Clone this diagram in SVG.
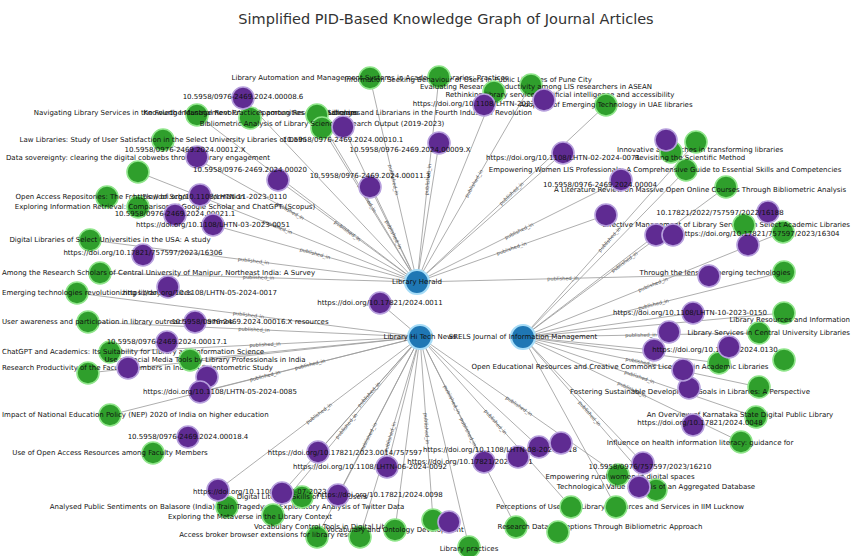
<svg xmlns="http://www.w3.org/2000/svg" width="852" height="556" viewBox="0 0 852 556">
<style>
.bg{fill:#fff}
.title{font:14.5px "DejaVu Sans",sans-serif;fill:#333;text-anchor:middle}
.e{stroke:#9a9a9a;stroke-width:1;fill:none;opacity:.8}
.el{font:5px "DejaVu Sans",sans-serif;fill:#555}
.art circle{fill:#2f9f2c;stroke:#8fe58a;stroke-width:1.6}
.pid circle{fill:#5f2b92;stroke:#b7a0dd;stroke-width:1.6}
.hub circle{fill:#1f77b4;stroke:#a6dcf7;stroke-width:2.2}
.n text{font:7px "DejaVu Sans",sans-serif;fill:#111;text-anchor:middle;dominant-baseline:central}
.n text.l{text-anchor:start}
.n text.r{text-anchor:end}
</style>
<rect class="bg" width="852" height="556"/>
<text class="title" x="446" y="24">Simplified PID-Based Knowledge Graph of Journal Articles</text>
<g id="connectors">
<path class="e" id="a1" d="M370 78 L417 282"/><path class="e" id="a2" d="M417 282 L439 77"/><path class="e" id="a3" d="M317 115 L417 282"/><path class="e" id="a4" d="M322 128 L417 282"/><path class="e" id="a5" d="M343 127 L417 282"/><path class="e" id="a6" d="M370 187 L417 282"/><path class="e" id="a7" d="M278 180 L417 282"/><path class="e" id="a8" d="M163 140 L417 282"/><path class="e" id="a9" d="M138 172 L417 282"/><path class="e" id="a10" d="M213 225 L417 282"/><path class="e" id="a11" d="M90 240 L417 282"/><path class="e" id="a12" d="M100 273 L417 282"/><path class="e" id="a13" d="M197 115 L417 282"/><path class="e" id="a14" d="M417 282 L439 143"/><path class="e" id="a15" d="M417 282 L531 85"/><path class="e" id="a16" d="M417 282 L563 153"/><path class="e" id="a17" d="M417 282 L606 105"/><path class="e" id="a18" d="M417 282 L494 92"/><path class="e" id="a19" d="M243 98 L417 282"/><path class="e" id="a20" d="M417 282 L621 180"/><path class="e" id="a21" d="M417 282 L606 215"/><path class="e" id="a22" d="M417 282 L709 275"/>
<path class="e" id="b1" d="M77 293 L420 337"/><path class="e" id="b2" d="M88 322 L420 337"/><path class="e" id="b3" d="M110 352 L420 337"/><path class="e" id="b4" d="M88 373 L420 337"/><path class="e" id="b5" d="M200 392 L420 337"/><path class="e" id="b6" d="M110 415 L420 337"/><path class="e" id="b7" d="M318 452 L420 337"/><path class="e" id="b8" d="M387 467 L420 337"/><path class="e" id="b9" d="M218 490 L420 337"/><path class="e" id="b10" d="M273 515 L420 337"/><path class="e" id="b11" d="M317 537 L420 337"/><path class="e" id="b12" d="M360 537 L420 337"/><path class="e" id="b13" d="M395 530 L420 337"/><path class="e" id="b14" d="M420 337 L433 520"/><path class="e" id="b15" d="M420 337 L469 547"/><path class="e" id="b16" d="M420 337 L484 462"/><path class="e" id="b17" d="M420 337 L539 447"/><path class="e" id="b18" d="M420 337 L516 527"/><path class="e" id="b19" d="M420 337 L571 507"/><path class="e" id="b20" d="M420 337 L618 475"/><path class="e" id="b21" d="M380 303 L420 337"/><path class="e" id="b22" d="M190 360 L420 337"/><path class="e" id="b23" d="M282 493 L420 337"/><path class="e" id="b24" d="M338 495 L420 337"/>
<path class="e" id="c1" d="M523 337 L784 272"/><path class="e" id="c2" d="M523 337 L783 232"/><path class="e" id="c3" d="M523 337 L656 235"/><path class="e" id="c4" d="M523 337 L726 187"/><path class="e" id="c5" d="M523 337 L686 170"/><path class="e" id="c6" d="M523 337 L696 142"/><path class="e" id="c7" d="M523 337 L759 333"/><path class="e" id="c8" d="M523 337 L784 313"/><path class="e" id="c9" d="M523 337 L719 363"/><path class="e" id="c10" d="M523 337 L759 387"/><path class="e" id="c11" d="M523 337 L756 417"/><path class="e" id="c12" d="M523 337 L741 442"/><path class="e" id="c13" d="M523 337 L656 490"/><path class="e" id="c14" d="M523 337 L643 463"/><path class="e" id="c15" d="M523 337 L616 507"/><path class="e" id="c16" d="M523 337 L693 313"/><path class="e" id="c17" d="M523 337 L654 350"/>
</g>
<g id="edge-labels" class="el">
<text dy="1.7"><textPath href="#a1" startOffset="50%" text-anchor="middle">published_in</textPath></text>
<text dy="1.7"><textPath href="#a2" startOffset="50%" text-anchor="middle">published_in</textPath></text>
<text dy="1.7"><textPath href="#a3" startOffset="50%" text-anchor="middle">published_in</textPath></text>
<text dy="1.7"><textPath href="#a6" startOffset="50%" text-anchor="middle">published_in</textPath></text>
<text dy="1.7"><textPath href="#a7" startOffset="50%" text-anchor="middle">published_in</textPath></text>
<text dy="1.7"><textPath href="#a8" startOffset="50%" text-anchor="middle">published_in</textPath></text>
<text dy="1.7"><textPath href="#a9" startOffset="50%" text-anchor="middle">published_in</textPath></text>
<text dy="1.7"><textPath href="#a10" startOffset="50%" text-anchor="middle">published_in</textPath></text>
<text dy="1.7"><textPath href="#a11" startOffset="50%" text-anchor="middle">published_in</textPath></text>
<text dy="1.7"><textPath href="#a12" startOffset="50%" text-anchor="middle">published_in</textPath></text>
<text dy="1.7"><textPath href="#a15" startOffset="50%" text-anchor="middle">published_in</textPath></text>
<text dy="1.7"><textPath href="#a17" startOffset="50%" text-anchor="middle">published_in</textPath></text>
<text dy="1.7"><textPath href="#a20" startOffset="50%" text-anchor="middle">published_in</textPath></text>
<text dy="1.7"><textPath href="#a21" startOffset="50%" text-anchor="middle">published_in</textPath></text>
<text dy="1.7"><textPath href="#a22" startOffset="50%" text-anchor="middle">published_in</textPath></text>
<text dy="1.7"><textPath href="#b1" startOffset="50%" text-anchor="middle">published_in</textPath></text>
<text dy="1.7"><textPath href="#b2" startOffset="50%" text-anchor="middle">published_in</textPath></text>
<text dy="1.7"><textPath href="#b3" startOffset="50%" text-anchor="middle">published_in</textPath></text>
<text dy="1.7"><textPath href="#b5" startOffset="50%" text-anchor="middle">published_in</textPath></text>
<text dy="1.7"><textPath href="#b6" startOffset="50%" text-anchor="middle">published_in</textPath></text>
<text dy="1.7"><textPath href="#b7" startOffset="50%" text-anchor="middle">published_in</textPath></text>
<text dy="1.7"><textPath href="#b9" startOffset="50%" text-anchor="middle">published_in</textPath></text>
<text dy="1.7"><textPath href="#b10" startOffset="50%" text-anchor="middle">published_in</textPath></text>
<text dy="1.7"><textPath href="#b11" startOffset="50%" text-anchor="middle">published_in</textPath></text>
<text dy="1.7"><textPath href="#b12" startOffset="50%" text-anchor="middle">published_in</textPath></text>
<text dy="1.7"><textPath href="#b14" startOffset="50%" text-anchor="middle">published_in</textPath></text>
<text dy="1.7"><textPath href="#b16" startOffset="50%" text-anchor="middle">published_in</textPath></text>
<text dy="1.7"><textPath href="#b18" startOffset="50%" text-anchor="middle">published_in</textPath></text>
<text dy="1.7"><textPath href="#b19" startOffset="50%" text-anchor="middle">published_in</textPath></text>
<text dy="1.7"><textPath href="#b20" startOffset="50%" text-anchor="middle">published_in</textPath></text>
<text dy="1.7"><textPath href="#c1" startOffset="50%" text-anchor="middle">published_in</textPath></text>
<text dy="1.7"><textPath href="#c2" startOffset="50%" text-anchor="middle">published_in</textPath></text>
<text dy="1.7"><textPath href="#c4" startOffset="50%" text-anchor="middle">published_in</textPath></text>
<text dy="1.7"><textPath href="#c6" startOffset="50%" text-anchor="middle">published_in</textPath></text>
<text dy="1.7"><textPath href="#c7" startOffset="50%" text-anchor="middle">published_in</textPath></text>
<text dy="1.7"><textPath href="#c10" startOffset="50%" text-anchor="middle">published_in</textPath></text>
<text dy="1.7"><textPath href="#c11" startOffset="50%" text-anchor="middle">published_in</textPath></text>
<text dy="1.7"><textPath href="#c12" startOffset="50%" text-anchor="middle">published_in</textPath></text>
<text dy="1.7"><textPath href="#c13" startOffset="50%" text-anchor="middle">published_in</textPath></text>
</g>
<g id="nodes">
<g id="hub-a" class="n hub"><circle cx="417" cy="282" r="12"/><text x="417" y="282">Library Herald</text></g>
<g id="hub-b" class="n hub"><circle cx="420" cy="337" r="12"/><text x="420" y="337">Library Hi Tech News</text></g>
<g id="hub-c" class="n hub"><circle cx="523" cy="337" r="12"/><text x="523" y="337">SRELS Journal of Information Management</text></g>

<g id="g1" class="n art"><circle cx="370" cy="78" r="11"/><text x="370" y="78">Library Automation and Management Systems in Academic Libraries: Practices</text></g>
<g id="g2" class="n art"><circle cx="439" cy="77" r="11"/><text x="468" y="80">Information Seeking Behaviour of Users in Public Libraries of Pune City</text></g>
<g id="g3" class="n art"><circle cx="531" cy="85" r="11"/><text x="536" y="87">Evaluating Research Productivity among LIS researchers in ASEAN</text></g>
<g id="g4" class="n art"><circle cx="494" cy="92" r="11"/><text x="560" y="95">Rethinking library services: artificial intelligence and accessibility</text></g>
<g id="g5" class="n art"><circle cx="606" cy="105" r="11"/><text x="606" y="105">Adoption of Emerging Technology in UAE libraries</text></g>
<g id="g6" class="n art"><circle cx="197" cy="115" r="11"/><text x="197" y="113">Navigating Library Services in the Fourth Industrial Revolution: Opportunities and Challenges</text></g>
<g id="g7" class="n art"><circle cx="250" cy="118" r="11"/><text x="250" y="113">Knowledge Management Practices among Research Scholars</text></g>
<g id="g8" class="n art"><circle cx="317" cy="115" r="11"/><text x="430" y="113">Libraries and Librarians in the Fourth Industrial Revolution</text></g>
<g id="g9" class="n art"><circle cx="322" cy="128" r="11"/><text x="322" y="124">Bibliometric Analysis of Library Science Research Output (2019-2023)</text></g>
<g id="g10" class="n art"><circle cx="163" cy="140" r="11"/><text x="163" y="140">Law Libraries: Study of User Satisfaction in the Select University Libraries of Delhi</text></g>
<g id="g11" class="n art"><circle cx="138" cy="172" r="11"/><text x="138" y="158">Data sovereignty: clearing the digital cobwebs through library engagement</text></g>
<g id="g12" class="n art"><circle cx="107" cy="197" r="11"/><text x="130" y="197">Open Access Repositories: The Free Flow of Scholarly Information</text></g>
<g id="g13" class="n art"><circle cx="138" cy="207" r="11"/><text x="165" y="207">Exploring Information Retrieval: Comparison of Google Scholar and ChatGPT (Scopus)</text></g>
<g id="g14" class="n art"><circle cx="90" cy="240" r="11"/><text x="110" y="240">Digital Libraries of Select Universities in the USA: A study</text></g>
<g id="g15" class="n art"><circle cx="100" cy="273" r="11"/><text class="l" x="2" y="273">Among the Research Scholars of Central University of Manipur, Northeast India: A Survey</text></g>
<g id="g16" class="n art"><circle cx="77" cy="293" r="11"/><text class="l" x="2" y="293">Emerging technologies revolutionizing library services</text></g>
<g id="g17" class="n art"><circle cx="88" cy="322" r="11"/><text class="l" x="2" y="322">User awareness and participation in library outreach programmes</text></g>
<g id="g18" class="n art"><circle cx="110" cy="352" r="11"/><text class="l" x="2" y="352">ChatGPT and Academics: Its Suitability for Library and Information Science</text></g>
<g id="g19" class="n art"><circle cx="88" cy="373" r="11"/><text class="l" x="2" y="368">Research Productivity of the Faculty Members in India: A Scientometric Study</text></g>
<g id="g20" class="n art"><circle cx="190" cy="360" r="11"/><text x="205" y="360">Use of Social Media Tools by Library Professionals in India</text></g>
<g id="g21" class="n art"><circle cx="110" cy="415" r="11"/><text class="l" x="2" y="415">Impact of National Education Policy (NEP) 2020 of India on higher education</text></g>
<g id="g22" class="n art"><circle cx="153" cy="453" r="11"/><text x="110" y="453">Use of Open Access Resources among Faculty Members</text></g>
<g id="g23" class="n art"><circle cx="227" cy="507" r="11"/><text x="227" y="507">Analysed Public Sentiments on Balasore (India) Train Tragedy: an Exploratory Analysis of Twitter Data</text></g>
<g id="g24" class="n art"><circle cx="273" cy="515" r="11"/><text x="250" y="517">Exploring the Metaverse in the Library Context</text></g>
<g id="g25" class="n art"><circle cx="302" cy="497" r="11"/><text x="302" y="497">Digital Literacy Skills of Library Users</text></g>
<g id="g26" class="n art"><circle cx="317" cy="537" r="11"/><text x="275" y="535">Access broker browser extensions for library resources</text></g>
<g id="g27" class="n art"><circle cx="360" cy="537" r="11"/><text x="330" y="527">Vocabulary Control Tools in Digital Libraries</text></g>
<g id="g28" class="n art"><circle cx="395" cy="530" r="11"/><text x="395" y="530">Vocabulary and Ontology Development</text></g>
<g id="g30" class="n art"><circle cx="433" cy="520" r="11"/><text x="620" y="507">Perceptions of Users on Library Resources and Services in IIM Lucknow</text></g>
<g id="g31" class="n art"><circle cx="469" cy="547" r="11"/><text x="469" y="549">Library practices</text></g>
<g id="g32" class="n art"><circle cx="516" cy="527" r="11"/><text x="600" y="527">Research Data Perceptions Through Bibliometric Approach</text></g>
<g id="g33" class="n art"><circle cx="558" cy="532" r="11"/></g>
<g id="g34" class="n art"><circle cx="571" cy="507" r="11"/></g>
<g id="g35" class="n art"><circle cx="616" cy="507" r="11"/></g>
<g id="g36" class="n art"><circle cx="618" cy="475" r="11"/><text x="620" y="477">Empowering rural women in digital spaces</text></g>
<g id="g37" class="n art"><circle cx="656" cy="490" r="11"/><text x="656" y="487">Technological Value Analysis of an Aggregated Database</text></g>
<g id="g38" class="n art"><circle cx="741" cy="442" r="11"/><text x="700" y="443">Influence on health information literacy: guidance for</text></g>
<g id="g39" class="n art"><circle cx="756" cy="417" r="11"/><text x="740" y="415">An Overview of Karnataka State Digital Public Library</text></g>
<g id="g40" class="n art"><circle cx="759" cy="387" r="11"/><text x="690" y="392">Fostering Sustainable Development Goals in Libraries: A Perspective</text></g>
<g id="g41" class="n art"><circle cx="719" cy="363" r="11"/><text x="620" y="367">Open Educational Resources and Creative Commons Licensing in Academic Libraries</text></g>
<g id="g42" class="n art"><circle cx="784" cy="360" r="11"/></g>
<g id="g43" class="n art"><circle cx="759" cy="333" r="11"/><text class="r" x="850" y="333">Library Services in Central University Libraries</text></g>
<g id="g44" class="n art"><circle cx="784" cy="313" r="11"/><text class="r" x="850" y="320">Library Resources and Information</text></g>
<g id="g45" class="n art"><circle cx="784" cy="272" r="11"/><text x="715" y="273">Through the lens of emerging technologies</text></g>
<g id="g46" class="n art"><circle cx="783" cy="232" r="11"/><text class="r" x="850" y="225">Effective Management of Library Services in Select Academic Libraries</text></g>
<g id="g47" class="n art"><circle cx="744" cy="225" r="11"/></g>
<g id="g48" class="n art"><circle cx="726" cy="187" r="11"/><text x="700" y="190">A Literature Review on Massive Open Online Courses Through Bibliometric Analysis</text></g>
<g id="g49" class="n art"><circle cx="686" cy="170" r="11"/><text x="665" y="170">Empowering Women LIS Professionals: A Comprehensive Guide to Essential Skills and Competencies</text></g>
<g id="g51" class="n art"><circle cx="696" cy="142" r="11"/><text x="700" y="150">Innovative approaches in transforming libraries</text></g>
<g id="g52" class="n art"><circle cx="671" cy="152" r="11"/><text x="690" y="158">Revisiting the Scientific Method</text></g>

<g id="p1" class="n pid"><circle cx="243" cy="98" r="11"/><text x="243" y="97">10.5958/0976-2469.2024.00008.6</text></g>
<g id="p2" class="n pid"><circle cx="343" cy="127" r="11"/><text x="343" y="140">10.5958/0976-2469.2024.00010.1</text></g>
<g id="p3" class="n pid"><circle cx="484" cy="105" r="11"/><text x="484" y="104">https://doi.org/10.1108/LHTN-2023-0102</text></g>
<g id="p4" class="n pid"><circle cx="544" cy="100" r="11"/></g>
<g id="p5" class="n pid"><circle cx="439" cy="143" r="11"/><text x="410" y="150">10.5958/0976-2469.2024.00009.X</text></g>
<g id="p6" class="n pid"><circle cx="563" cy="153" r="11"/><text x="563" y="158">https://doi.org/10.1108/LHTN-02-2024-0071</text></g>
<g id="p7" class="n pid"><circle cx="666" cy="140" r="11"/></g>
<g id="p8" class="n pid"><circle cx="197" cy="157" r="11"/><text x="185" y="150">10.5958/0976-2469.2024.00012.X</text></g>
<g id="p9" class="n pid"><circle cx="278" cy="180" r="11"/><text x="250" y="170">10.5958/0976-2469.2024.00020</text></g>
<g id="p10" class="n pid"><circle cx="370" cy="187" r="11"/><text x="370" y="176">10.5958/0976-2469.2024.00011.3</text></g>
<g id="p11" class="n pid"><circle cx="200" cy="195" r="11"/><text x="210" y="197">https://doi.org/10.1108/LHTN-11-2023-0110</text></g>
<g id="p12" class="n pid"><circle cx="175" cy="215" r="11"/><text x="175" y="214">10.5958/0976-2469.2024.00021.1</text></g>
<g id="p13" class="n pid"><circle cx="213" cy="225" r="11"/><text x="213" y="225">https://doi.org/10.1108/LHTN-03-2023-0051</text></g>
<g id="p14" class="n pid"><circle cx="143" cy="255" r="11"/><text x="143" y="253">https://doi.org/10.17821/757597/2023/16306</text></g>
<g id="p15" class="n pid"><circle cx="168" cy="287" r="11"/><text x="200" y="293">https://doi.org/10.1108/LHTN-05-2024-0017</text></g>
<g id="p16" class="n pid"><circle cx="380" cy="303" r="11"/><text x="380" y="303">https://doi.org/10.17821/2024.0011</text></g>
<g id="p17" class="n pid"><circle cx="195" cy="322" r="11"/><text x="250" y="322">10.5958/0976-2469.2024.00016.X resources</text></g>
<g id="p18" class="n pid"><circle cx="167" cy="342" r="11"/><text x="167" y="342">10.5958/0976-2469.2024.00017.1</text></g>
<g id="p19" class="n pid"><circle cx="128" cy="368" r="11"/></g>
<g id="p20" class="n pid"><circle cx="207" cy="377" r="11"/></g>
<g id="p21" class="n pid"><circle cx="200" cy="392" r="11"/><text x="220" y="392">https://doi.org/10.1108/LHTN-05-2024-0085</text></g>
<g id="p23" class="n pid"><circle cx="188" cy="437" r="11"/><text x="188" y="437">10.5958/0976-2469.2024.00018.4</text></g>
<g id="p24" class="n pid"><circle cx="318" cy="452" r="11"/><text x="345" y="453">https://doi.org/10.17821/2023.0014/757597</text></g>
<g id="p25" class="n pid"><circle cx="387" cy="467" r="11"/><text x="370" y="467">https://doi.org/10.1108/LHTN-06-2024-0092</text></g>
<g id="p26" class="n pid"><circle cx="218" cy="490" r="11"/><text x="270" y="492">https://doi.org/10.1108/LHTN-07-2023-0118</text></g>
<g id="p27" class="n pid"><circle cx="282" cy="493" r="11"/></g>
<g id="p28" class="n pid"><circle cx="338" cy="495" r="11"/><text x="380" y="495">https://doi.org/10.17821/2024.0098</text></g>
<g id="p29" class="n pid"><circle cx="449" cy="522" r="11"/></g>
<g id="p30" class="n pid"><circle cx="484" cy="462" r="11"/><text x="470" y="462">https://doi.org/10.17821/2024.0011</text></g>
<g id="p31" class="n pid"><circle cx="518" cy="457" r="11"/></g>
<g id="p32" class="n pid"><circle cx="539" cy="447" r="11"/><text x="500" y="450">https://doi.org/10.1108/LHTN-08-2023-0118</text></g>
<g id="p33" class="n pid"><circle cx="561" cy="443" r="11"/></g>
<g id="p34" class="n pid"><circle cx="643" cy="463" r="11"/><text x="650" y="467">10.5958/0976/757597/2023/16210</text></g>
<g id="p35" class="n pid"><circle cx="639" cy="487" r="11"/></g>
<g id="p36" class="n pid"><circle cx="693" cy="425" r="11"/><text x="700" y="423">https://doi.org/10.17821/2024.0048</text></g>
<g id="p37" class="n pid"><circle cx="689" cy="388" r="11"/></g>
<g id="p38" class="n pid"><circle cx="683" cy="370" r="11"/></g>
<g id="p39" class="n pid"><circle cx="654" cy="350" r="11"/><text x="715" y="350">https://doi.org/10.17821/2024.0130</text></g>
<g id="p40" class="n pid"><circle cx="729" cy="347" r="11"/></g>
<g id="p41" class="n pid"><circle cx="669" cy="332" r="11"/></g>
<g id="p42" class="n pid"><circle cx="693" cy="313" r="11"/><text x="690" y="313">https://doi.org/10.1108/LHTN-10-2023-0150</text></g>
<g id="p43" class="n pid"><circle cx="709" cy="276" r="11"/></g>
<g id="p45" class="n pid"><circle cx="748" cy="245" r="11"/><text x="760" y="234">https://doi.org/10.17821/757597/2023/16304</text></g>
<g id="p46" class="n pid"><circle cx="768" cy="212" r="11"/><text x="720" y="213">10.17821/2022/757597/2022/16188</text></g>
<g id="p47" class="n pid"><circle cx="656" cy="235" r="11"/></g>
<g id="p48" class="n pid"><circle cx="673" cy="235" r="11"/></g>
<g id="p49" class="n pid"><circle cx="606" cy="215" r="11"/></g>
<g id="p50" class="n pid"><circle cx="621" cy="180" r="11"/><text x="600" y="185">10.5958/0976-2469.2024.00004</text></g>
</g>
</svg>
